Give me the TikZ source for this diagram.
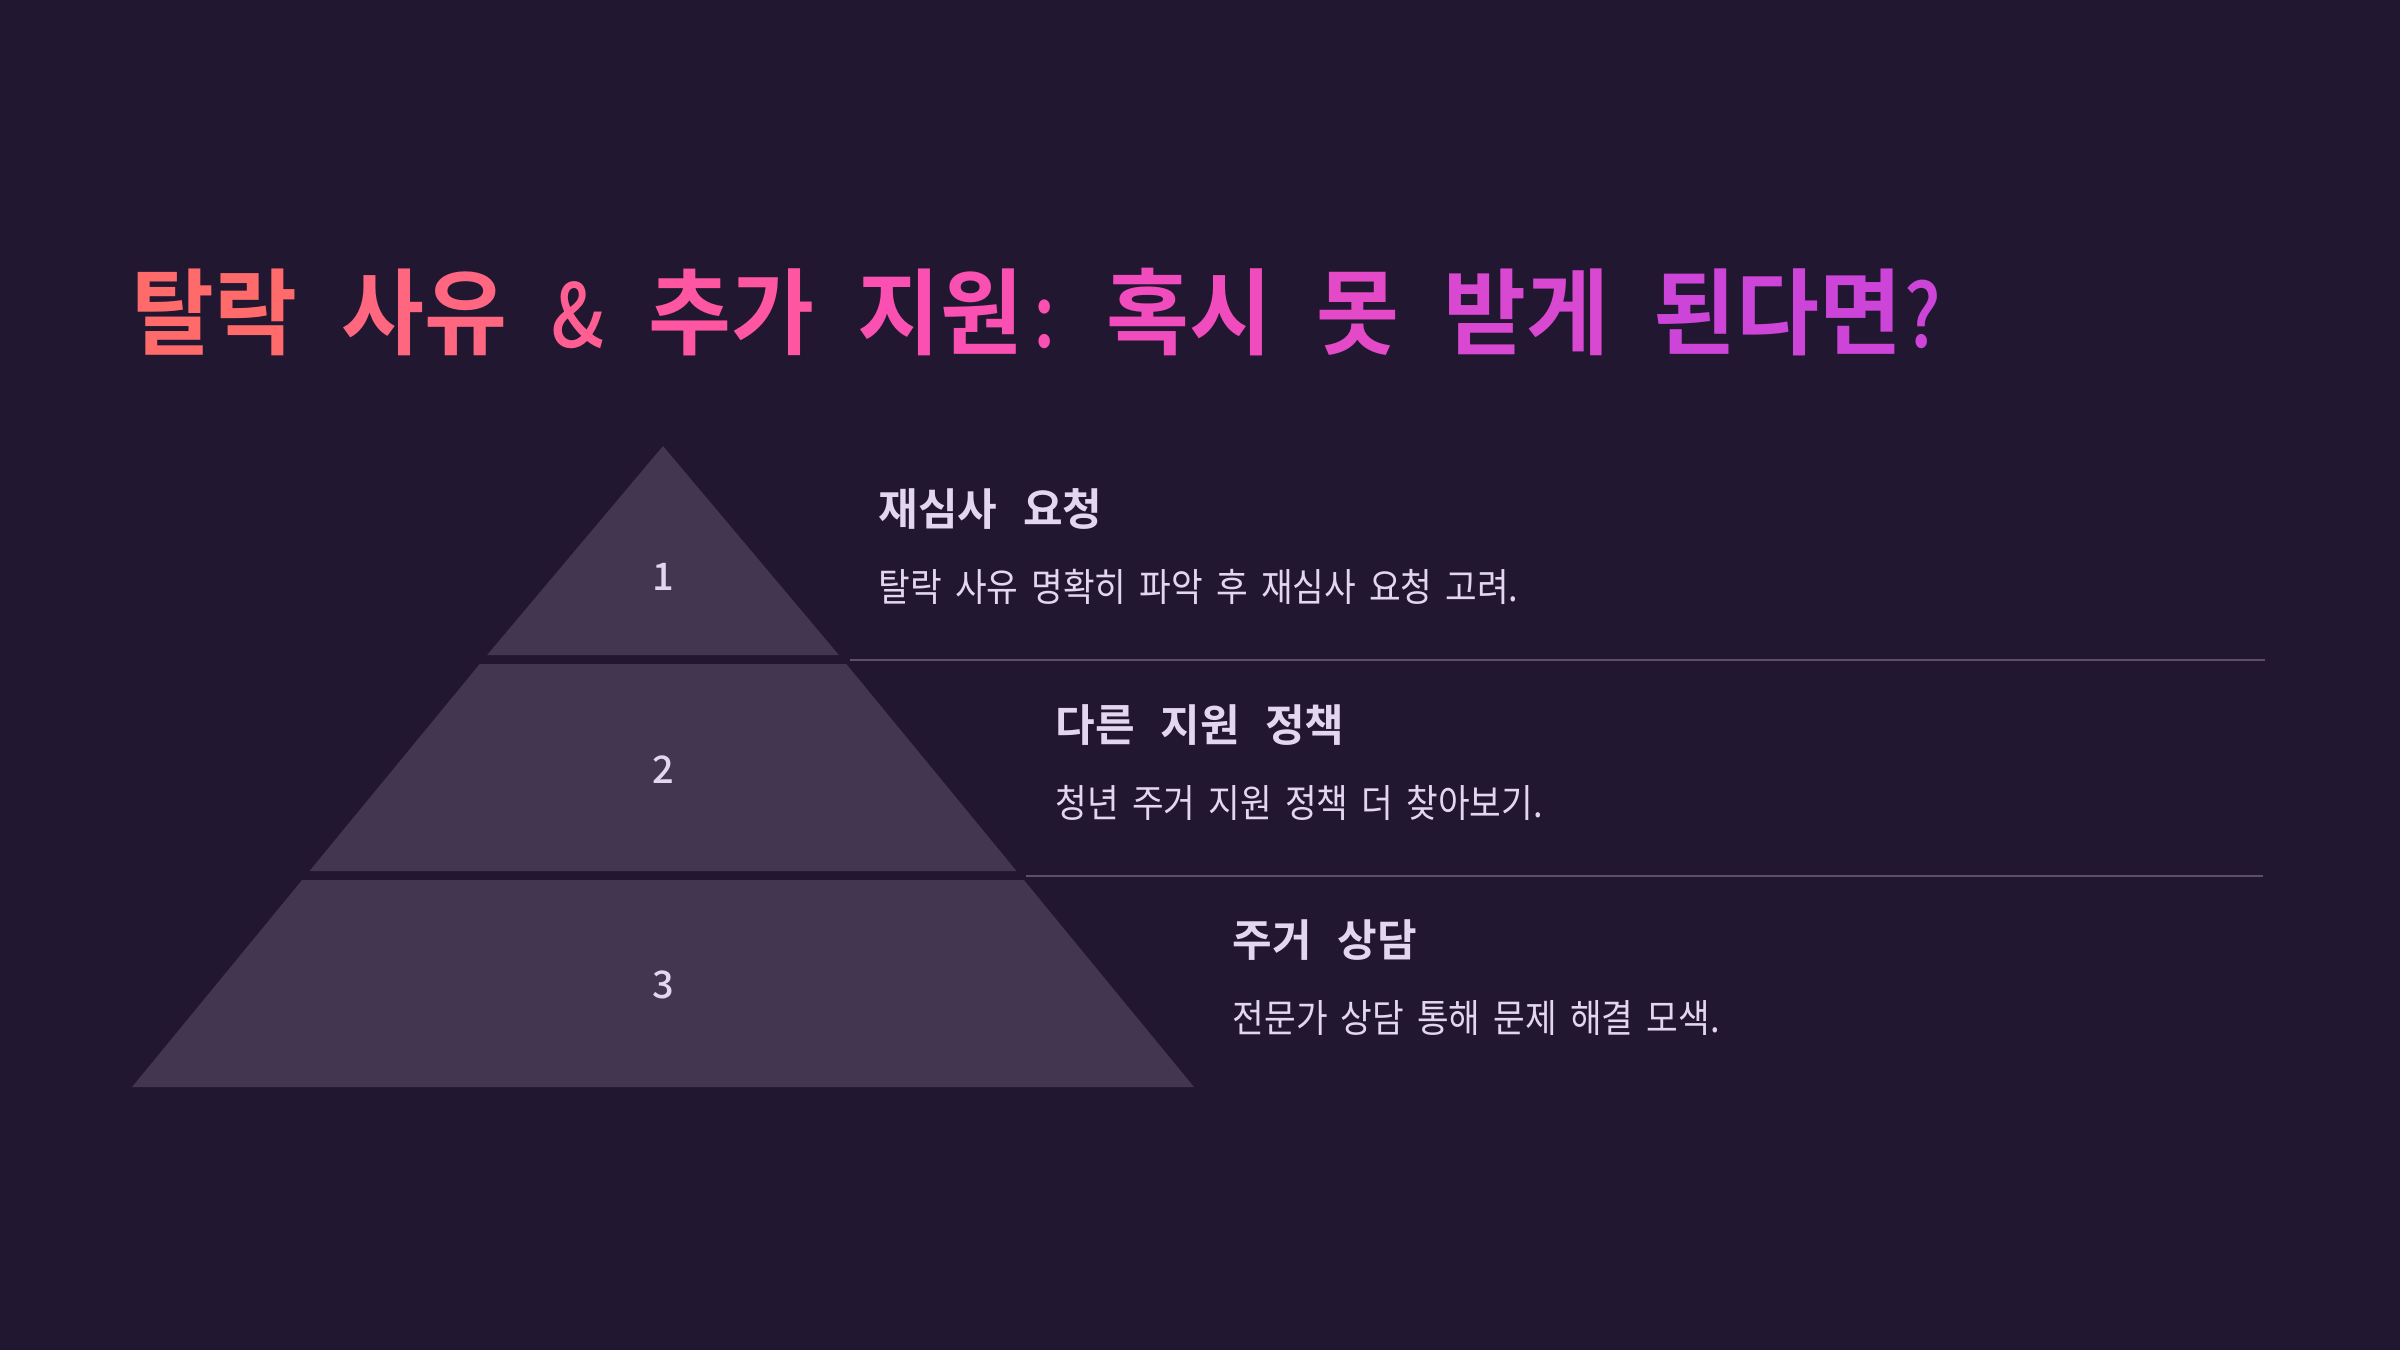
\documentclass[tikz,border=0pt]{standalone}
\usepackage{fontspec}
\usepackage{tikz}
\usetikzlibrary{positioning}
\setmainfont{Noto Sans CJK KR}
\newfontfamily\ttlfont[FakeStretch=0.96,WordSpace=2.15]{Noto Sans CJK KR Bold}
\newfontfamily\ttlsym[FakeStretch=0.85]{Noto Sans CJK KR Medium}
\newfontfamily\headfont[FakeStretch=0.98,WordSpace=2.6]{Noto Sans CJK KR Bold}
\newfontfamily\bodyfont[FakeStretch=0.89,WordSpace=1.7]{Noto Sans CJK KR}
\newfontfamily\numfont{Noto Sans CJK KR Medium}
\definecolor{bg}{HTML}{221730}
\definecolor{tier}{HTML}{433650}
\definecolor{rule}{HTML}{5C4F6E}
\definecolor{ink}{HTML}{E2D6F0}
\definecolor{tA}{HTML}{FF6B6B}
\definecolor{tB}{HTML}{FF6680}
\definecolor{tC}{HTML}{FF5E92}
\definecolor{tD}{HTML}{FF56A2}
\definecolor{tE}{HTML}{F950B2}
\definecolor{tF}{HTML}{F04CBE}
\definecolor{tG}{HTML}{E44AC8}
\definecolor{tH}{HTML}{D848D0}
\definecolor{tI}{HTML}{CC44D8}
\newcommand{\tsym}[1]{{\ttlsym\fontsize{25}{28}\selectfont #1}}

\begin{document}
\begin{tikzpicture}[x=0.01cm, y=-0.01cm,
    title/.style={inner sep=0, anchor=west, font=\ttlfont\fontsize{26.7}{30}\selectfont},
    head/.style={inner sep=0, anchor=west, text=ink, font=\headfont\fontsize{12.5}{15}\selectfont},
    body/.style={inner sep=0, anchor=west, text=ink, font=\bodyfont\fontsize{11}{13}\selectfont},
    num/.style={inner sep=0, text=ink, font=\numfont\fontsize{10.8}{13}\selectfont}]
        \fill[bg] (0,0) rectangle (2400,1350);
        % title
        \node (ttl) [title] at (131,312) {\color{tA}탈락 \color{tB}사유 \color{tC}\tsym{\&} \color{tD}추가 \color{tE}지원\hspace{0.1cm}\tsym{:} \color{tF}혹시 \color{tG}못 \color{tH}받게 \color{tI}된다면\hspace{0.02cm}\tsym{?}};
        % pyramid
        \fill[tier] (663,446) -- (838.9,655) -- (487.1,655) -- cycle;
        \fill[tier] (479.7,664) -- (846.3,664) -- (1016.5,871) -- (309.5,871) -- cycle;
        \fill[tier] (302.1,880) -- (1023.9,880) -- (1194,1087) -- (132,1087) -- cycle;
        \node (n1) [num] at (663,577) {1};
        \node (n2) [num] at (663,770) {2};
        \node (n3) [num] at (663,985) {3};
        % separators
        \draw[rule, line width=0.6pt] (850,660) -- (2265,660);
        \draw[rule, line width=0.6pt] (1026,876) -- (2263,876);
        % steps
        \node (h1) [head] at (878,509) {재심사 요청};
        \node (b1) [body, below=0.78cm of h1.west, anchor=west] {탈락 사유 명확히 파악 후 재심사 요청 고려.};
        \node (h2) [head] at (1055,725) {다른 지원 정책};
        \node (b2) [body, below=0.78cm of h2.west, anchor=west] {청년 주거 지원 정책 더 찾아보기.};
        \node (h3) [head] at (1232,940) {주거 상담};
        \node (b3) [body, below=0.78cm of h3.west, anchor=west] {전문가 상담 통해 문제 해결 모색.};
\end{tikzpicture}
\end{document}
